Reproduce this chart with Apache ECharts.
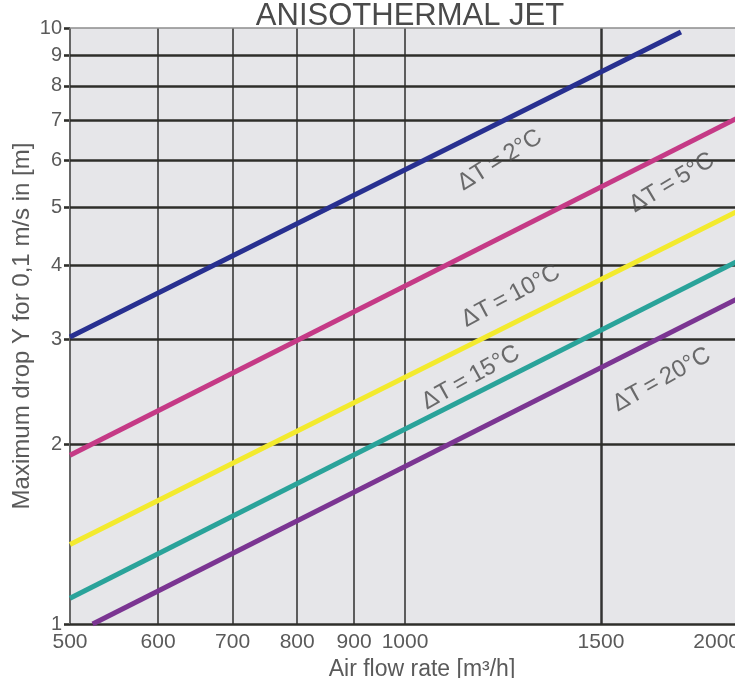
<!DOCTYPE html>
<html>
<head>
<meta charset="utf-8">
<title>Anisothermal jet</title>
<script src="https://cdn.jsdelivr.net/npm/echarts@6/dist/echarts.min.js"></script>
<style>
  html, body { margin: 0; padding: 0; background: #ffffff; }
  #chart { width: 735px; height: 678px; }
</style>
</head>
<body>
<div id="chart"></div>
<script>
// Axis ticks (log-log chart)
const flowTicks = [500, 600, 700, 800, 900, 1000, 1500, 2000];
const dropTicks = [1, 2, 3, 4, 5, 6, 7, 8, 9, 10];

// Curve names and their end points [air flow m3/h, drop m]
const curveNames = ['ΔT=2°C', 'ΔT=5°C', 'ΔT=10°C', 'ΔT=15°C', 'ΔT=20°C'];
const dt2 = [[500, 3.03], [1770, 9.85]];
const dt5 = [[500, 1.92], [2000, 7.1]];
const dt10 = [[500, 1.36], [2000, 4.95]];
const dt15 = [[500, 1.105], [2000, 4.08]];
const dt20 = [[524, 1.0], [2000, 3.53]];
const curveColors = ['#283090', '#c53a86', '#f3ea2e', '#2aa39a', '#7b3592'];

// Where each curve's caption sits, and its slant
const captionAt = [[1217, 6.0], [1737, 5.5], [1245, 3.55], [1146, 2.59], [1701, 2.57]];
const captionAngle = [32, 31, 28, 29, 29];
const captionText = ['ΔT\u2009=\u20092°C', 'ΔT\u2009=\u20095°C', 'ΔT\u2009=\u200910°C', 'ΔT\u2009=\u200915°C', 'ΔT\u2009=\u200920°C'];

const textGray = '#5a5a5a';
const regular = '"Liberation Sans", Arial, sans-serif';

const chart = echarts.init(document.getElementById('chart'), null, { renderer: 'canvas' });

const curveData = [dt2, dt5, dt10, dt15, dt20];
const curveSeries = curveData.map((d, i) => ({
  name: curveNames[i],
  type: 'line',
  data: d,
  symbol: 'none',
  z: 5,
  lineStyle: { color: curveColors[i], width: 5 },
  silent: true
}));

// Grid lines drawn as mark lines underneath the curves
const vLines = flowTicks.map(v => ({
  xAxis: v,
  lineStyle: {
    color: v === 1500 ? '#333333' : (v === 500 ? '#666666' : '#5c5c5c'),
    width: v === 1500 ? 2.5 : 2,
    type: 'solid'
  }
}));
const hLines = dropTicks.map(v => ({
  yAxis: v,
  lineStyle: {
    color: v === 10 ? '#8c8c8c' : '#2e2e2a',
    width: v === 10 ? 1.5 : 2.6,
    type: 'solid'
  }
}));

const gridSeries = {
  type: 'line',
  data: [],
  z: 1,
  silent: true,
  markLine: {
    silent: true,
    symbol: 'none',
    animation: false,
    label: { show: false },
    data: vLines.concat(hLines)
  }
};

const captionSeries = {
  type: 'scatter',
  z: 6,
  silent: true,
  symbolSize: 0,
  data: captionAt.map((p, i) => ({
    value: p,
    label: {
      show: true,
      position: 'inside',
      formatter: captionText[i],
      rotate: captionAngle[i],
      color: '#4a4a4a',
      fontSize: 24,
      fontFamily: regular
    }
  }))
};

chart.setOption({
  animation: false,
  backgroundColor: '#ffffff',
  title: {
    text: 'ANISOTHERMAL JET',
    left: 405,
    top: -4,
    textAlign: 'center',
    textStyle: { fontSize: 31, fontWeight: 'normal', color: '#4a4a4a', fontFamily: regular }
  },
  grid: {
    left: 70,
    top: 28,
    width: 670,
    height: 596,
    containLabel: false,
    outerBoundsMode: 'none',
    show: true,
    backgroundColor: '#e6e6e9',
    borderWidth: 0
  },
  xAxis: {
    type: 'log',
    logBase: 10,
    min: 500,
    max: 2000,
    name: 'Air flow rate [m³/h]',
    nameLocation: 'middle',
    nameGap: 34,
    nameMoveOverlap: false,
    nameTextStyle: { fontSize: 23, color: textGray, fontFamily: regular, padding: [0, 0, 0, 34] },
    axisLine: { show: false },
    axisTick: { show: false },
    splitLine: { show: false },
    minorTick: { show: false },
    axisLabel: {
      customValues: flowTicks,
      color: textGray,
      fontSize: 21,
      fontFamily: regular,
      margin: 8,
      alignMaxLabel: 'right',
      formatter: v => String(Math.round(v))
    }
  },
  yAxis: {
    type: 'log',
    logBase: 10,
    min: 1,
    max: 10,
    name: 'Maximum drop Y for 0,1 m/s in [m]',
    nameLocation: 'middle',
    nameGap: 36,
    nameMoveOverlap: false,
    nameTextStyle: { fontSize: 24, color: textGray, fontFamily: regular },
    axisLine: { show: false },
    axisTick: {
      show: true,
      customValues: dropTicks,
      length: 6,
      lineStyle: { color: '#2e2e2a', width: 2.6 }
    },
    splitLine: { show: false },
    minorTick: { show: false },
    axisLabel: {
      customValues: dropTicks,
      color: textGray,
      fontSize: 20,
      fontFamily: regular,
      margin: 8,
      formatter: v => String(Math.round(v))
    }
  },
  series: [gridSeries].concat(curveSeries, [captionSeries])
});
</script>
</body>
</html>
